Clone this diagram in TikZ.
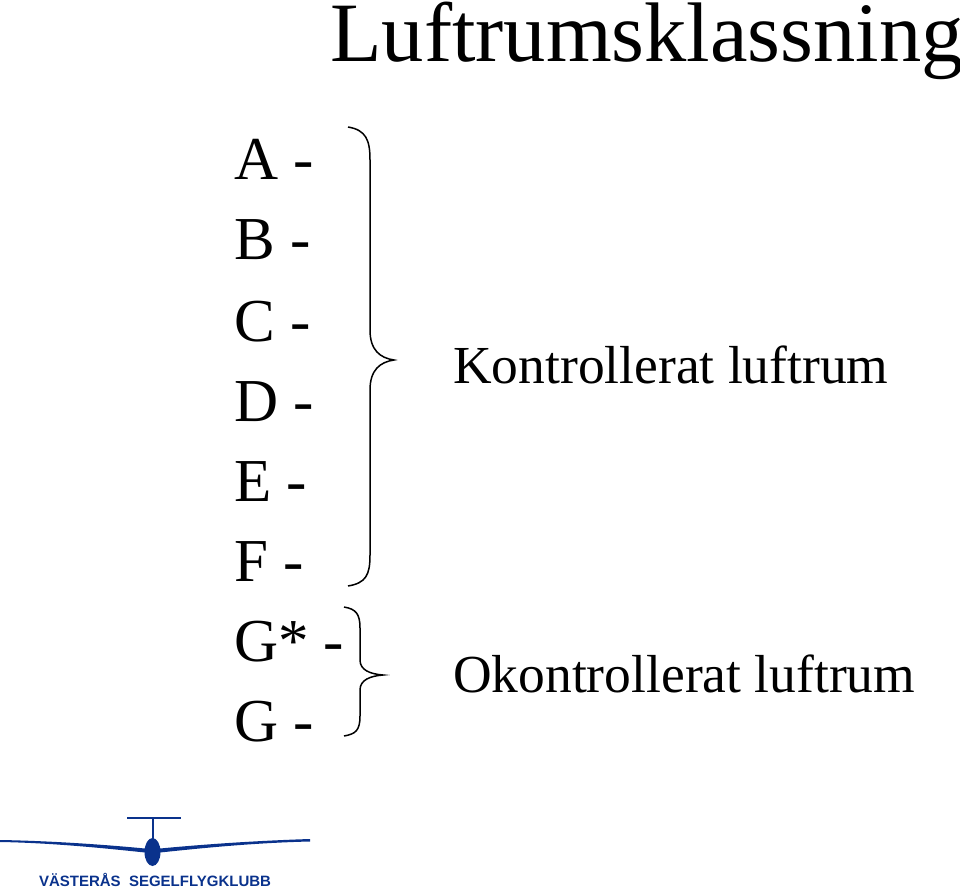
\documentclass[tikz,border=0pt]{standalone}
\usepackage{fontspec}
\setmainfont{Liberation Serif}
\newfontfamily\logofont{Liberation Sans}
\definecolor{vsblue}{RGB}{10,50,140}
\begin{document}
\begin{tikzpicture}[x=1pt,y=-1pt,
  lbl/.style={anchor=base west,inner sep=0,font=\fontsize{61}{61}\selectfont},
  big/.style={anchor=base west,inner sep=0,font=\fontsize{53.5}{53.5}\selectfont},
  brace/.style={line width=1.5pt}]
\useasboundingbox (0,0) rectangle (960,890);
\node[anchor=base west,inner sep=0,font=\fontsize{84.5}{84.5}\selectfont] (title) at (330,62) {Luftrumsklassning};
\node[lbl] (a) at (234,180) {A -};
\node[lbl] (b) at (234,260) {B -};
\node[lbl] (c) at (234,341) {C -};
\node[lbl] (d) at (234,421) {D -};
\node[lbl] (e) at (234,501) {E -};
\node[lbl] (f) at (234,581) {F -};
\node[lbl] (gs) at (234,661) {G* -};
\node[lbl] (g) at (234,741) {G -};
\node[big] (k) at (453,383) {Kontrollerat luftrum};
\node[big] (o) at (453,692) {Okontrollerat luftrum};
\draw[brace] (348,127) .. controls (366,130) and (370,140) .. (370,160) -- (370,330)
  .. controls (370,350) and (380,358) .. (394,360)
  .. controls (380,362) and (370,370) .. (370,390) -- (370,555)
  .. controls (370,575) and (366,583) .. (348,586);
\draw[brace] (344,607) .. controls (356,609) and (360,614) .. (360,628) -- (360,660)
  .. controls (360,670) and (370,674) .. (383,675)
  .. controls (370,676) and (360,680) .. (360,690) -- (360,716)
  .. controls (360,730) and (356,734) .. (344,736);
% logo
\fill[vsblue] (0,840) .. controls (60,841) and (120,846) .. (150,849) -- (155,849)
  .. controls (185,846) and (245,841) .. (310,839) -- (310,841.5)
  .. controls (245,843) and (185,850) .. (155,853) -- (150,853)
  .. controls (120,850) and (60,843) .. (0,842) -- cycle;
\fill[vsblue] (152.5,852) ellipse (8 and 14);
\draw[vsblue,line width=2.5pt] (153,819) -- (153,845);
\draw[vsblue,line width=1.5pt] (127,818) -- (181,818);
\node[anchor=base,inner sep=0,text=vsblue,font=\logofont\bfseries\fontsize{15}{15}\selectfont] (logo) at (155,886) {VÄSTERÅS\ \ SEGELFLYGKLUBB};
\end{tikzpicture}
\end{document}
